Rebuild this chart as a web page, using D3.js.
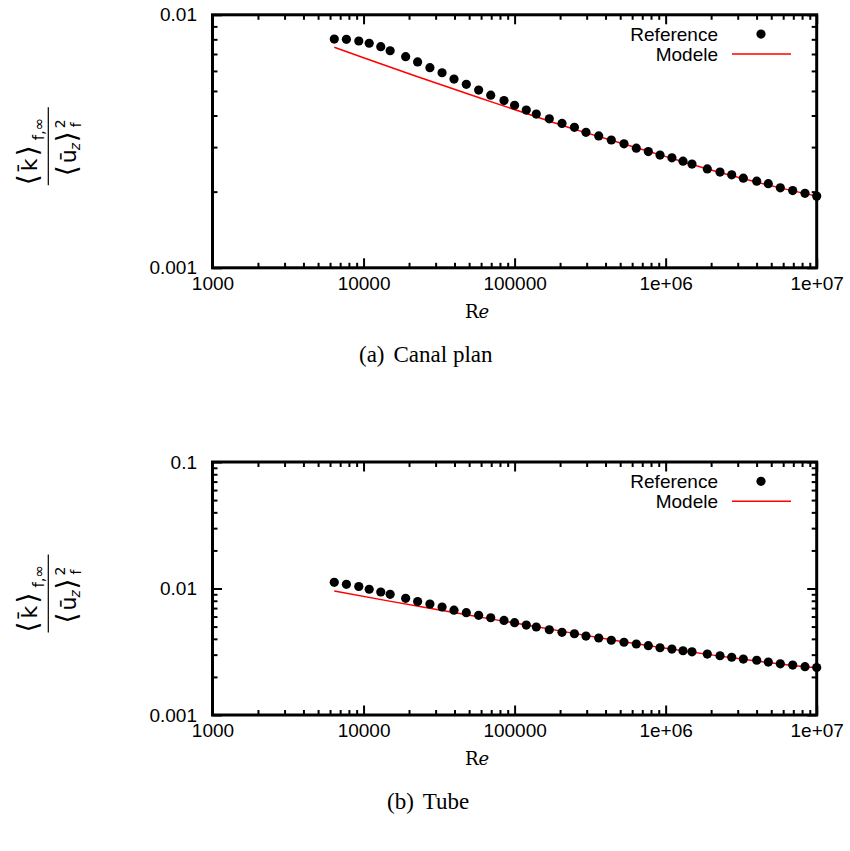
<!DOCTYPE html>
<html><head><meta charset="utf-8">
<script src="https://cdn.jsdelivr.net/npm/d3@7"></script>
<style>body{margin:0;background:#fff}</style>
</head><body>
<svg id="c" width="850" height="851"></svg>
<script>
// ---------- data ----------
const reynolds = [6400, 7700, 9300, 10900, 13000, 15000, 19000, 22800, 27500, 33100, 39700, 47900, 57800, 69500, 85100, 100000, 119500, 139200, 169700, 206000, 248900, 296900, 360500, 436800, 530000, 639300, 767700, 917600, 1100000, 1303000, 1494000, 1887000, 2290000, 2737000, 3268000, 4008000, 4782000, 5742000, 6936000, 8366000, 10000000];
const canalRef = [0.00802, 0.00800, 0.00788, 0.00772, 0.00748, 0.00721, 0.00683, 0.00651, 0.00618, 0.00590, 0.00557, 0.00531, 0.00504, 0.00481, 0.00458, 0.00439, 0.00420, 0.00405, 0.00388, 0.00372, 0.00359, 0.00343, 0.00332, 0.00320, 0.00309, 0.00297, 0.00288, 0.00279, 0.00272, 0.00264, 0.00257, 0.00246, 0.00239, 0.00233, 0.00226, 0.00220, 0.00215, 0.00207, 0.00202, 0.00197, 0.00192];
const tubeRef = [0.01119, 0.01079, 0.01037, 0.00986, 0.00938, 0.00900, 0.00837, 0.00789, 0.00754, 0.00714, 0.00674, 0.00644, 0.00614, 0.00587, 0.00559, 0.00537, 0.00514, 0.00496, 0.00472, 0.00450, 0.00439, 0.00421, 0.00406, 0.00390, 0.00376, 0.00364, 0.00353, 0.00340, 0.00332, 0.00322, 0.00316, 0.00303, 0.00294, 0.00286, 0.00277, 0.00271, 0.00262, 0.00254, 0.00248, 0.00241, 0.00237];
const canalModelRe = [6400, 10000, 21350, 58990, 163100, 243600, 436800, 1005000, 2290000, 5740000, 10000000];
const canalModel = [0.00744, 0.00676, 0.00577, 0.00469, 0.00383, 0.00354, 0.00319, 0.00275, 0.00238, 0.00207, 0.00192];
const tubeModelRe = [6400, 14230, 48190, 120200, 436800, 1000000, 2290000, 5740000, 10000000];
const tubeModel = [0.00955, 0.00802, 0.00619, 0.00514, 0.00393, 0.00337, 0.00292, 0.00253, 0.00236];
const xTicks = [1e3, 1e4, 1e5, 1e6, 1e7];
const xTickLabels = ["1000", "10000", "100000", "1e+06", "1e+07"];
const canalYTicks = [0.001, 0.01];
const canalYTickLabels = ["0.001", "0.01"];
const tubeYTicks = [0.001, 0.01, 0.1];
const tubeYTickLabels = ["0.001", "0.01", "0.1"];
const legendLabels = ["Reference", "Modele"];
const xLabel = ["R", "e"];
const captionsTag = ["(a)", "(b)"];
const captionsText = ["Canal plan", "Tube"];

// ---------- drawing ----------
const svg = d3.select("#c");
const SANS = "'Liberation Sans', Arial, Helvetica, sans-serif";
const SERIF = "'Liberation Serif', 'Times New Roman', serif";

function minorTicks(domain) {
  const out = [];
  const a = Math.floor(Math.log10(domain[0])), b = Math.ceil(Math.log10(domain[1]));
  for (let e = a; e < b; e++) for (let k = 2; k <= 9; k++) out.push(k * Math.pow(10, e));
  return out;
}

function panel(cfg) {
  const g = svg.append("g");
  const left = 212.5, right = 816.7;
  const x = d3.scaleLog().domain([1e3, 1e7]).range([left, right]);
  const y = d3.scaleLog().domain(cfg.yDomain).range([cfg.bottom, cfg.top]);
  const xMinor = minorTicks(x.domain()), yMinor = minorTicks(y.domain());

  function styleAxis(sel) {
    sel.attr("font-family", null).attr("font-size", null);
    sel.select(".domain").remove();
    sel.selectAll(".tick line").attr("stroke", "#000").attr("stroke-width", 2);
    sel.selectAll("text").attr("font-family", SANS).attr("font-size", 19).attr("fill", "#000");
  }
  g.append("g").attr("transform", `translate(0,${cfg.bottom})`)
    .call(d3.axisBottom(x).tickValues(xTicks).tickSize(-9.5).tickPadding(9).tickFormat((d, i) => xTickLabels[i])).call(styleAxis);
  g.append("g").attr("transform", `translate(0,${cfg.bottom})`)
    .call(d3.axisBottom(x).tickValues(xMinor).tickSize(-5).tickFormat("")).call(styleAxis);
  g.append("g").attr("transform", `translate(0,${cfg.top})`)
    .call(d3.axisTop(x).tickValues(xTicks).tickSize(-9.5).tickFormat("")).call(styleAxis);
  g.append("g").attr("transform", `translate(0,${cfg.top})`)
    .call(d3.axisTop(x).tickValues(xMinor).tickSize(-5).tickFormat("")).call(styleAxis);
  g.append("g").attr("transform", `translate(${left},0)`)
    .call(d3.axisLeft(y).tickValues(cfg.yTicks).tickSize(-9.5).tickPadding(15.5).tickFormat((d, i) => cfg.yTickLabels[i])).call(styleAxis);
  g.append("g").attr("transform", `translate(${left},0)`)
    .call(d3.axisLeft(y).tickValues(yMinor).tickSize(-5).tickFormat("")).call(styleAxis);
  g.append("g").attr("transform", `translate(${right},0)`)
    .call(d3.axisRight(y).tickValues(cfg.yTicks).tickSize(-9.5).tickFormat("")).call(styleAxis);
  g.append("g").attr("transform", `translate(${right},0)`)
    .call(d3.axisRight(y).tickValues(yMinor).tickSize(-5).tickFormat("")).call(styleAxis);

  g.append("rect").attr("x", left).attr("y", cfg.top).attr("width", right - left).attr("height", cfg.bottom - cfg.top)
    .attr("fill", "none").attr("stroke", "#000").attr("stroke-width", 3);

  const line = d3.line().x(d => x(d[0])).y(d => y(d[1])).curve(d3.curveNatural);
  g.append("path").datum(cfg.modelRe.map((r, i) => [r, cfg.model[i]]))
    .attr("d", line).attr("fill", "none").attr("stroke", "#ff0000").attr("stroke-width", 1.5);

  g.selectAll("circle.pt").data(reynolds.map((r, i) => [r, cfg.ref[i]])).join("circle")
    .attr("class", "pt").attr("cx", d => x(d[0])).attr("cy", d => y(d[1])).attr("r", 4.6).attr("fill", "#000");

  const lg = g.append("g").attr("transform", `translate(0,${cfg.top})`);
  lg.append("text").attr("x", 718).attr("y", 26).attr("text-anchor", "end").attr("font-family", SANS).attr("font-size", 19).text(legendLabels[0]);
  lg.append("circle").attr("cx", 761).attr("cy", 19.3).attr("r", 4.6).attr("fill", "#000");
  lg.append("text").attr("x", 718).attr("y", 46.2).attr("text-anchor", "end").attr("font-family", SANS).attr("font-size", 19).text(legendLabels[1]);
  lg.append("line").attr("x1", 732).attr("x2", 791).attr("y1", 39.3).attr("y2", 39.3).attr("stroke", "#ff0000").attr("stroke-width", 1.5);

  const xl = g.append("text").attr("x", 477).attr("y", cfg.bottom + 50).attr("text-anchor", "middle")
    .attr("font-family", "'DejaVu Serif', serif").attr("font-size", 18);
  xl.append("tspan").text(xLabel[0]);
  xl.append("tspan").attr("font-style", "italic").text(xLabel[1]);

  const cap = g.append("text").attr("y", cfg.bottom + 94).attr("font-family", SERIF).attr("font-size", 23);
  cap.append("tspan").attr("x", cfg.capX).text(captionsTag[cfg.idx]);
  cap.append("tspan").attr("dx", 9).text(captionsText[cfg.idx]);

  const cy = (cfg.top + cfg.bottom) / 2 + 5;
  const yl = g.append("g").attr("transform", `translate(48.3,${cy}) rotate(-90)`)
    .attr("font-family", "'DejaVu Sans', sans-serif").attr("fill", "#000");
  yl.append("line").attr("x1", -39).attr("x2", 39).attr("y1", 0).attr("y2", 0).attr("stroke", "#000").attr("stroke-width", 1.2);
  yl.append("text").attr("x", -39).attr("y", -11).attr("font-size", 28).text("\u27E8");
  yl.append("text").attr("x", -25).attr("y", -11).attr("font-size", 22).text("k\u0304");
  yl.append("text").attr("x", -10).attr("y", -11).attr("font-size", 28).text("\u27E9");
  yl.append("text").attr("x", 6).attr("y", -4).attr("font-size", 15).text("f,\u221E");
  yl.append("text").attr("x", -30).attr("y", 28).attr("font-size", 28).text("\u27E8");
  yl.append("text").attr("x", -17).attr("y", 28).attr("font-size", 22).text("\u016B");
  yl.append("text").attr("x", -4).attr("y", 32).attr("font-size", 14).attr("font-style", "italic").text("z");
  yl.append("text").attr("x", 4).attr("y", 28).attr("font-size", 28).text("\u27E9");
  yl.append("text").attr("x", 18).attr("y", 17).attr("font-size", 14).text("2");
  yl.append("text").attr("x", 19).attr("y", 33).attr("font-size", 14).text("f");
}

panel({idx: 0, top: 14.8, bottom: 267.8, yDomain: [0.001, 0.01], yTicks: canalYTicks, yTickLabels: canalYTickLabels,
  ref: canalRef, modelRe: canalModelRe, model: canalModel, capX: 359});
panel({idx: 1, top: 462, bottom: 715, yDomain: [0.001, 0.1], yTicks: tubeYTicks, yTickLabels: tubeYTickLabels,
  ref: tubeRef, modelRe: tubeModelRe, model: tubeModel, capX: 387});
</script>
</body></html>
